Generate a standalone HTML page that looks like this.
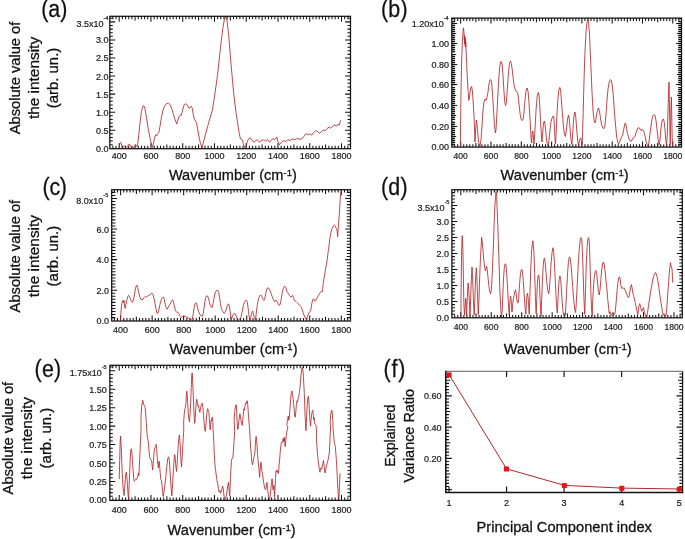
<!DOCTYPE html>
<html lang="en"><head><meta charset="utf-8"><title>PCA components of Raman spectra</title>
<style>html,body{margin:0;padding:0;background:#fff}body{width:685px;height:539px;overflow:hidden}svg{display:block;will-change:transform}</style>
</head><body>
<svg width="685" height="539" viewBox="0 0 685 539" font-family='"Liberation Sans", Arial, Helvetica, sans-serif'>
<rect width="685" height="539" fill="#fff"/>
<g id="panel-a">
<rect x="109.8" y="16.3" width="240.7" height="132.4" fill="none" stroke="#111" stroke-width="1.25"/>
<path d="M112.85 148.7v-2.9M112.85 16.3v2.9M116.02 148.7v-2.9M116.02 16.3v2.9M119.2 148.7v-5.5M119.2 16.3v5.5M122.38 148.7v-2.9M122.38 16.3v2.9M125.55 148.7v-2.9M125.55 16.3v2.9M128.73 148.7v-2.9M128.73 16.3v2.9M131.9 148.7v-2.9M131.9 16.3v2.9M135.08 148.7v-4.2M135.08 16.3v4.2M138.25 148.7v-2.9M138.25 16.3v2.9M141.43 148.7v-2.9M141.43 16.3v2.9M144.61 148.7v-2.9M144.61 16.3v2.9M147.78 148.7v-2.9M147.78 16.3v2.9M150.96 148.7v-5.5M150.96 16.3v5.5M154.13 148.7v-2.9M154.13 16.3v2.9M157.31 148.7v-2.9M157.31 16.3v2.9M160.48 148.7v-2.9M160.48 16.3v2.9M163.66 148.7v-2.9M163.66 16.3v2.9M166.84 148.7v-4.2M166.84 16.3v4.2M170.01 148.7v-2.9M170.01 16.3v2.9M173.19 148.7v-2.9M173.19 16.3v2.9M176.36 148.7v-2.9M176.36 16.3v2.9M179.54 148.7v-2.9M179.54 16.3v2.9M182.71 148.7v-5.5M182.71 16.3v5.5M185.89 148.7v-2.9M185.89 16.3v2.9M189.07 148.7v-2.9M189.07 16.3v2.9M192.24 148.7v-2.9M192.24 16.3v2.9M195.42 148.7v-2.9M195.42 16.3v2.9M198.59 148.7v-4.2M198.59 16.3v4.2M201.77 148.7v-2.9M201.77 16.3v2.9M204.94 148.7v-2.9M204.94 16.3v2.9M208.12 148.7v-2.9M208.12 16.3v2.9M211.3 148.7v-2.9M211.3 16.3v2.9M214.47 148.7v-5.5M214.47 16.3v5.5M217.65 148.7v-2.9M217.65 16.3v2.9M220.82 148.7v-2.9M220.82 16.3v2.9M224 148.7v-2.9M224 16.3v2.9M227.17 148.7v-2.9M227.17 16.3v2.9M230.35 148.7v-4.2M230.35 16.3v4.2M233.53 148.7v-2.9M233.53 16.3v2.9M236.7 148.7v-2.9M236.7 16.3v2.9M239.88 148.7v-2.9M239.88 16.3v2.9M243.05 148.7v-2.9M243.05 16.3v2.9M246.23 148.7v-5.5M246.23 16.3v5.5M249.4 148.7v-2.9M249.4 16.3v2.9M252.58 148.7v-2.9M252.58 16.3v2.9M255.76 148.7v-2.9M255.76 16.3v2.9M258.93 148.7v-2.9M258.93 16.3v2.9M262.11 148.7v-4.2M262.11 16.3v4.2M265.28 148.7v-2.9M265.28 16.3v2.9M268.46 148.7v-2.9M268.46 16.3v2.9M271.63 148.7v-2.9M271.63 16.3v2.9M274.81 148.7v-2.9M274.81 16.3v2.9M277.99 148.7v-5.5M277.99 16.3v5.5M281.16 148.7v-2.9M281.16 16.3v2.9M284.34 148.7v-2.9M284.34 16.3v2.9M287.51 148.7v-2.9M287.51 16.3v2.9M290.69 148.7v-2.9M290.69 16.3v2.9M293.86 148.7v-4.2M293.86 16.3v4.2M297.04 148.7v-2.9M297.04 16.3v2.9M300.22 148.7v-2.9M300.22 16.3v2.9M303.39 148.7v-2.9M303.39 16.3v2.9M306.57 148.7v-2.9M306.57 16.3v2.9M309.74 148.7v-5.5M309.74 16.3v5.5M312.92 148.7v-2.9M312.92 16.3v2.9M316.09 148.7v-2.9M316.09 16.3v2.9M319.27 148.7v-2.9M319.27 16.3v2.9M322.45 148.7v-2.9M322.45 16.3v2.9M325.62 148.7v-4.2M325.62 16.3v4.2M328.8 148.7v-2.9M328.8 16.3v2.9M331.97 148.7v-2.9M331.97 16.3v2.9M335.15 148.7v-2.9M335.15 16.3v2.9M338.32 148.7v-2.9M338.32 16.3v2.9M341.5 148.7v-5.5M341.5 16.3v5.5M344.68 148.7v-2.9M344.68 16.3v2.9M347.85 148.7v-2.9M347.85 16.3v2.9M109.8 144.69h3M350.5 144.69h-3M109.8 141.08h3M350.5 141.08h-3M109.8 137.46h3M350.5 137.46h-3M109.8 133.85h3M350.5 133.85h-3M109.8 130.24h5.4M350.5 130.24h-5.4M109.8 126.63h3M350.5 126.63h-3M109.8 123.02h3M350.5 123.02h-3M109.8 119.4h3M350.5 119.4h-3M109.8 115.79h3M350.5 115.79h-3M109.8 112.18h5.4M350.5 112.18h-5.4M109.8 108.57h3M350.5 108.57h-3M109.8 104.96h3M350.5 104.96h-3M109.8 101.34h3M350.5 101.34h-3M109.8 97.73h3M350.5 97.73h-3M109.8 94.12h5.4M350.5 94.12h-5.4M109.8 90.51h3M350.5 90.51h-3M109.8 86.9h3M350.5 86.9h-3M109.8 83.28h3M350.5 83.28h-3M109.8 79.67h3M350.5 79.67h-3M109.8 76.06h5.4M350.5 76.06h-5.4M109.8 72.45h3M350.5 72.45h-3M109.8 68.84h3M350.5 68.84h-3M109.8 65.22h3M350.5 65.22h-3M109.8 61.61h3M350.5 61.61h-3M109.8 58h5.4M350.5 58h-5.4M109.8 54.39h3M350.5 54.39h-3M109.8 50.78h3M350.5 50.78h-3M109.8 47.16h3M350.5 47.16h-3M109.8 43.55h3M350.5 43.55h-3M109.8 39.94h5.4M350.5 39.94h-5.4M109.8 36.33h3M350.5 36.33h-3M109.8 32.72h3M350.5 32.72h-3M109.8 29.1h3M350.5 29.1h-3M109.8 25.49h3M350.5 25.49h-3M109.8 21.88h5.4M350.5 21.88h-5.4M109.8 18.27h3M350.5 18.27h-3" stroke="#111" stroke-width="1.05" fill="none"/>
<g font-size="9.0" text-anchor="middle" fill="#1a1a1a" stroke="#1a1a1a" stroke-width="0.2">
<text transform="translate(119.2 158.8) scale(1 1.07)">400</text>
<text transform="translate(150.96 158.8) scale(1 1.07)">600</text>
<text transform="translate(182.71 158.8) scale(1 1.07)">800</text>
<text transform="translate(214.47 158.8) scale(1 1.07)">1000</text>
<text transform="translate(246.23 158.8) scale(1 1.07)">1200</text>
<text transform="translate(277.99 158.8) scale(1 1.07)">1400</text>
<text transform="translate(309.74 158.8) scale(1 1.07)">1600</text>
<text transform="translate(341.5 158.8) scale(1 1.07)">1800</text>
</g>
<g font-size="9.0" text-anchor="end" fill="#1a1a1a" stroke="#1a1a1a" stroke-width="0.2">
<text transform="translate(108.4 151.75) scale(1 1.07)">0.0</text>
<text transform="translate(108.4 133.69) scale(1 1.07)">0.5</text>
<text transform="translate(108.4 115.63) scale(1 1.07)">1.0</text>
<text transform="translate(108.4 97.57) scale(1 1.07)">1.5</text>
<text transform="translate(108.4 79.51) scale(1 1.07)">2.0</text>
<text transform="translate(108.4 61.45) scale(1 1.07)">2.5</text>
<text transform="translate(108.4 43.39) scale(1 1.07)">3.0</text>
<text transform="translate(103.5 27.08) scale(1 1.07)">3.5x10</text>
<text transform="translate(103.5 20.18) scale(1 1.07)" text-anchor="start" font-size="5.6">-4</text>
</g>
<path d="M119.3 147.8 119.5 144.7 119.9 142.8 120.5 142.4 121.1 143 121.6 145 122 147.2 122.5 148 123.1 147.6 123.6 146.5 124.2 145.9 124.8 146.2 125.3 147.1 125.9 147.9 126.5 148 127.1 147.5 127.7 146.3 128.3 144.8 128.9 144 129.5 144.2 130.1 145.2 130.8 146.6 131.6 147.6 133.1 147.9 134 147.2 134.6 146 135.3 145.2 136 145 136.6 145.6 137 146.5 137.4 145.5 137.7 143.5 138.91 134.03 139.93 123.69 141.39 111.88 142.85 106.26 143.87 105.67 145.04 108.92 146.5 117.78 148.25 128.86 150.15 138.46 151.61 145.11 152.63 147.32 153.5 142.89 154.82 136.99 155.69 134.77 156.72 135.8 157.88 133.29 158.91 132.26 159.93 126.65 161.39 117.78 162.85 110.4 164.74 105.67 166.64 103.46 168.39 103.31 170.15 104.79 171.61 108.18 173.07 113.35 174.96 119.26 176.72 123.99 177.88 120 179.34 115.86 180.36 114.83 181.24 115.57 182.55 110.4 184.01 105.23 185.18 103.75 186.64 104.2 187.66 105.97 188.83 108.18 190 107.45 191.31 106.26 192.19 108.18 193.21 114.09 194.38 119.26 195.4 121.03 196.57 122.95 197.59 128.86 199.05 136.99 200.51 143.63 201.97 147.62 204.97 136.38 208.71 122.47 212.46 109.83 214.96 93.39 217.45 75.69 220.45 47.87 222.94 27.64 224.44 18.79 225.69 17.02 226.94 20.06 228.68 35.23 231.18 65.57 233.68 93.39 236.17 113.62 238.67 130.06 240.42 138.91 242.41 140.17 243.66 145.23 244.91 147.76 246.16 145.23 247.91 140.17 249.9 137.64 251.9 140.17 253.65 142.19 255.64 140.68 257.39 139.67 259.39 142.19 261.14 140.68 263.63 139.67 265.38 140.93 267.38 139.41 269.37 142.19 271.12 140.68 272.87 138.4 274.87 139.67 276.86 137.14 277.86 141.44 279.36 144.72 281.11 142.7 283.6 140.68 286.1 141.44 287.85 139.67 289.84 140.68 292.34 138.91 294.84 139.67 297.33 138.4 299.83 139.41 302.32 138.4 304.32 135.87 306.07 133.34 307.82 135.11 309.81 133.85 311.81 135.11 313.56 132.58 316.05 130.56 317.8 131.83 319.8 133.34 321.79 131.32 323.54 130.06 325.29 130.81 327.29 128.29 329.28 127.02 331.03 128.29 332.78 126.26 334.78 125 336.52 126.26 337.77 124.24 339.27 125 340.52 120.7" fill="none" stroke="#b4262a" stroke-width="0.85" stroke-linejoin="round" stroke-linecap="round"/>
</g>
<g id="panel-b">
<rect x="451.8" y="18.1" width="229.7" height="129" fill="none" stroke="#111" stroke-width="1.25"/>
<path d="M454.64 147.1v-2.9M454.64 18.1v2.9M457.67 147.1v-2.9M457.67 18.1v2.9M460.7 147.1v-5.5M460.7 18.1v5.5M463.73 147.1v-2.9M463.73 18.1v2.9M466.76 147.1v-2.9M466.76 18.1v2.9M469.79 147.1v-2.9M469.79 18.1v2.9M472.82 147.1v-2.9M472.82 18.1v2.9M475.85 147.1v-4.2M475.85 18.1v4.2M478.88 147.1v-2.9M478.88 18.1v2.9M481.91 147.1v-2.9M481.91 18.1v2.9M484.94 147.1v-2.9M484.94 18.1v2.9M487.97 147.1v-2.9M487.97 18.1v2.9M491 147.1v-5.5M491 18.1v5.5M494.03 147.1v-2.9M494.03 18.1v2.9M497.06 147.1v-2.9M497.06 18.1v2.9M500.09 147.1v-2.9M500.09 18.1v2.9M503.12 147.1v-2.9M503.12 18.1v2.9M506.15 147.1v-4.2M506.15 18.1v4.2M509.18 147.1v-2.9M509.18 18.1v2.9M512.21 147.1v-2.9M512.21 18.1v2.9M515.24 147.1v-2.9M515.24 18.1v2.9M518.27 147.1v-2.9M518.27 18.1v2.9M521.3 147.1v-5.5M521.3 18.1v5.5M524.33 147.1v-2.9M524.33 18.1v2.9M527.36 147.1v-2.9M527.36 18.1v2.9M530.39 147.1v-2.9M530.39 18.1v2.9M533.42 147.1v-2.9M533.42 18.1v2.9M536.45 147.1v-4.2M536.45 18.1v4.2M539.48 147.1v-2.9M539.48 18.1v2.9M542.51 147.1v-2.9M542.51 18.1v2.9M545.54 147.1v-2.9M545.54 18.1v2.9M548.57 147.1v-2.9M548.57 18.1v2.9M551.6 147.1v-5.5M551.6 18.1v5.5M554.63 147.1v-2.9M554.63 18.1v2.9M557.66 147.1v-2.9M557.66 18.1v2.9M560.69 147.1v-2.9M560.69 18.1v2.9M563.72 147.1v-2.9M563.72 18.1v2.9M566.75 147.1v-4.2M566.75 18.1v4.2M569.78 147.1v-2.9M569.78 18.1v2.9M572.81 147.1v-2.9M572.81 18.1v2.9M575.84 147.1v-2.9M575.84 18.1v2.9M578.87 147.1v-2.9M578.87 18.1v2.9M581.9 147.1v-5.5M581.9 18.1v5.5M584.93 147.1v-2.9M584.93 18.1v2.9M587.96 147.1v-2.9M587.96 18.1v2.9M590.99 147.1v-2.9M590.99 18.1v2.9M594.02 147.1v-2.9M594.02 18.1v2.9M597.05 147.1v-4.2M597.05 18.1v4.2M600.08 147.1v-2.9M600.08 18.1v2.9M603.11 147.1v-2.9M603.11 18.1v2.9M606.14 147.1v-2.9M606.14 18.1v2.9M609.17 147.1v-2.9M609.17 18.1v2.9M612.2 147.1v-5.5M612.2 18.1v5.5M615.23 147.1v-2.9M615.23 18.1v2.9M618.26 147.1v-2.9M618.26 18.1v2.9M621.29 147.1v-2.9M621.29 18.1v2.9M624.32 147.1v-2.9M624.32 18.1v2.9M627.35 147.1v-4.2M627.35 18.1v4.2M630.38 147.1v-2.9M630.38 18.1v2.9M633.41 147.1v-2.9M633.41 18.1v2.9M636.44 147.1v-2.9M636.44 18.1v2.9M639.47 147.1v-2.9M639.47 18.1v2.9M642.5 147.1v-5.5M642.5 18.1v5.5M645.53 147.1v-2.9M645.53 18.1v2.9M648.56 147.1v-2.9M648.56 18.1v2.9M651.59 147.1v-2.9M651.59 18.1v2.9M654.62 147.1v-2.9M654.62 18.1v2.9M657.65 147.1v-4.2M657.65 18.1v4.2M660.68 147.1v-2.9M660.68 18.1v2.9M663.71 147.1v-2.9M663.71 18.1v2.9M666.74 147.1v-2.9M666.74 18.1v2.9M669.77 147.1v-2.9M669.77 18.1v2.9M672.8 147.1v-5.5M672.8 18.1v5.5M675.83 147.1v-2.9M675.83 18.1v2.9M678.86 147.1v-2.9M678.86 18.1v2.9M451.8 144.5h3.3M681.5 144.5h-3.3M451.8 142.5h3.3M681.5 142.5h-3.3M451.8 140.5h3.3M681.5 140.5h-3.3M451.8 138.5h3.3M681.5 138.5h-3.3M451.8 136.5h4.4M681.5 136.5h-4.4M451.8 134.5h3.3M681.5 134.5h-3.3M451.8 132.5h3.3M681.5 132.5h-3.3M451.8 130.5h3.3M681.5 130.5h-3.3M451.8 128.5h3.3M681.5 128.5h-3.3M451.8 126.5h5.4M681.5 126.5h-5.4M451.8 124.5h3.3M681.5 124.5h-3.3M451.8 122.5h3.3M681.5 122.5h-3.3M451.8 119.5h3.3M681.5 119.5h-3.3M451.8 117.5h3.3M681.5 117.5h-3.3M451.8 115.5h4.4M681.5 115.5h-4.4M451.8 113.5h3.3M681.5 113.5h-3.3M451.8 111.5h3.3M681.5 111.5h-3.3M451.8 109.5h3.3M681.5 109.5h-3.3M451.8 107.5h3.3M681.5 107.5h-3.3M451.8 105.5h5.4M681.5 105.5h-5.4M451.8 103.5h3.3M681.5 103.5h-3.3M451.8 101.5h3.3M681.5 101.5h-3.3M451.8 99.5h3.3M681.5 99.5h-3.3M451.8 97.5h3.3M681.5 97.5h-3.3M451.8 95.5h4.4M681.5 95.5h-4.4M451.8 93.5h3.3M681.5 93.5h-3.3M451.8 91.5h3.3M681.5 91.5h-3.3M451.8 89.5h3.3M681.5 89.5h-3.3M451.8 87.5h3.3M681.5 87.5h-3.3M451.8 84.5h5.4M681.5 84.5h-5.4M451.8 82.5h3.3M681.5 82.5h-3.3M451.8 80.5h3.3M681.5 80.5h-3.3M451.8 78.5h3.3M681.5 78.5h-3.3M451.8 76.5h3.3M681.5 76.5h-3.3M451.8 74.5h4.4M681.5 74.5h-4.4M451.8 72.5h3.3M681.5 72.5h-3.3M451.8 70.5h3.3M681.5 70.5h-3.3M451.8 68.5h3.3M681.5 68.5h-3.3M451.8 66.5h3.3M681.5 66.5h-3.3M451.8 64.5h5.4M681.5 64.5h-5.4M451.8 62.5h3.3M681.5 62.5h-3.3M451.8 60.5h3.3M681.5 60.5h-3.3M451.8 58.5h3.3M681.5 58.5h-3.3M451.8 56.5h3.3M681.5 56.5h-3.3M451.8 54.5h4.4M681.5 54.5h-4.4M451.8 51.5h3.3M681.5 51.5h-3.3M451.8 49.5h3.3M681.5 49.5h-3.3M451.8 47.5h3.3M681.5 47.5h-3.3M451.8 45.5h3.3M681.5 45.5h-3.3M451.8 43.5h5.4M681.5 43.5h-5.4M451.8 41.5h3.3M681.5 41.5h-3.3M451.8 39.5h3.3M681.5 39.5h-3.3M451.8 37.5h3.3M681.5 37.5h-3.3M451.8 35.5h3.3M681.5 35.5h-3.3M451.8 33.5h4.4M681.5 33.5h-4.4M451.8 31.5h3.3M681.5 31.5h-3.3M451.8 29.5h3.3M681.5 29.5h-3.3M451.8 27.5h3.3M681.5 27.5h-3.3M451.8 25.5h3.3M681.5 25.5h-3.3M451.8 23.5h5.4M681.5 23.5h-5.4M451.8 21.5h3.3M681.5 21.5h-3.3M451.8 18.5h3.3M681.5 18.5h-3.3" stroke="#111" stroke-width="1.05" fill="none"/>
<path d="M451.8 145.5h3.1M681.5 145.5h-3.1M451.8 143.5h3.1M681.5 143.5h-3.1M451.8 141.5h3.1M681.5 141.5h-3.1M451.8 139.5h3.1M681.5 139.5h-3.1M451.8 137.5h3.1M681.5 137.5h-3.1M451.8 135.5h3.1M681.5 135.5h-3.1M451.8 133.5h3.1M681.5 133.5h-3.1M451.8 131.5h3.1M681.5 131.5h-3.1M451.8 129.5h3.1M681.5 129.5h-3.1M451.8 127.5h3.1M681.5 127.5h-3.1M451.8 125.5h3.1M681.5 125.5h-3.1M451.8 123.5h3.1M681.5 123.5h-3.1M451.8 121.5h3.1M681.5 121.5h-3.1M451.8 118.5h3.1M681.5 118.5h-3.1M451.8 116.5h3.1M681.5 116.5h-3.1M451.8 114.5h3.1M681.5 114.5h-3.1M451.8 112.5h3.1M681.5 112.5h-3.1M451.8 110.5h3.1M681.5 110.5h-3.1M451.8 108.5h3.1M681.5 108.5h-3.1M451.8 106.5h3.1M681.5 106.5h-3.1M451.8 104.5h3.1M681.5 104.5h-3.1M451.8 102.5h3.1M681.5 102.5h-3.1M451.8 100.5h3.1M681.5 100.5h-3.1M451.8 98.5h3.1M681.5 98.5h-3.1M451.8 96.5h3.1M681.5 96.5h-3.1M451.8 94.5h3.1M681.5 94.5h-3.1M451.8 92.5h3.1M681.5 92.5h-3.1M451.8 90.5h3.1M681.5 90.5h-3.1M451.8 88.5h3.1M681.5 88.5h-3.1M451.8 85.5h3.1M681.5 85.5h-3.1M451.8 83.5h3.1M681.5 83.5h-3.1M451.8 81.5h3.1M681.5 81.5h-3.1M451.8 79.5h3.1M681.5 79.5h-3.1M451.8 77.5h3.1M681.5 77.5h-3.1M451.8 75.5h3.1M681.5 75.5h-3.1M451.8 73.5h3.1M681.5 73.5h-3.1M451.8 71.5h3.1M681.5 71.5h-3.1M451.8 69.5h3.1M681.5 69.5h-3.1M451.8 67.5h3.1M681.5 67.5h-3.1M451.8 65.5h3.1M681.5 65.5h-3.1M451.8 63.5h3.1M681.5 63.5h-3.1M451.8 61.5h3.1M681.5 61.5h-3.1M451.8 59.5h3.1M681.5 59.5h-3.1M451.8 57.5h3.1M681.5 57.5h-3.1M451.8 55.5h3.1M681.5 55.5h-3.1M451.8 52.5h3.1M681.5 52.5h-3.1M451.8 50.5h3.1M681.5 50.5h-3.1M451.8 48.5h3.1M681.5 48.5h-3.1M451.8 46.5h3.1M681.5 46.5h-3.1M451.8 44.5h3.1M681.5 44.5h-3.1M451.8 42.5h3.1M681.5 42.5h-3.1M451.8 40.5h3.1M681.5 40.5h-3.1M451.8 38.5h3.1M681.5 38.5h-3.1M451.8 36.5h3.1M681.5 36.5h-3.1M451.8 34.5h3.1M681.5 34.5h-3.1M451.8 32.5h3.1M681.5 32.5h-3.1M451.8 30.5h3.1M681.5 30.5h-3.1M451.8 28.5h3.1M681.5 28.5h-3.1M451.8 26.5h3.1M681.5 26.5h-3.1M451.8 24.5h3.1M681.5 24.5h-3.1M451.8 22.5h3.1M681.5 22.5h-3.1M451.8 19.5h3.1M681.5 19.5h-3.1" stroke="#111" stroke-width="0.35" fill="none"/>
<g font-size="8.6" text-anchor="middle" fill="#1a1a1a" stroke="#1a1a1a" stroke-width="0.2">
<text transform="translate(460.7 159.4) scale(1 1.07)">400</text>
<text transform="translate(491 159.4) scale(1 1.07)">600</text>
<text transform="translate(521.3 159.4) scale(1 1.07)">800</text>
<text transform="translate(551.6 159.4) scale(1 1.07)">1000</text>
<text transform="translate(581.9 159.4) scale(1 1.07)">1200</text>
<text transform="translate(612.2 159.4) scale(1 1.07)">1400</text>
<text transform="translate(642.5 159.4) scale(1 1.07)">1600</text>
<text transform="translate(672.8 159.4) scale(1 1.07)">1800</text>
</g>
<g font-size="9.0" text-anchor="end" fill="#1a1a1a" stroke="#1a1a1a" stroke-width="0.2">
<text transform="translate(448.9 150.25) scale(1 1.07)">0.00</text>
<text transform="translate(448.9 129.63) scale(1 1.07)">0.20</text>
<text transform="translate(448.9 109.01) scale(1 1.07)">0.40</text>
<text transform="translate(448.9 88.39) scale(1 1.07)">0.60</text>
<text transform="translate(448.9 67.77) scale(1 1.07)">0.80</text>
<text transform="translate(448.9 47.15) scale(1 1.07)">1.00</text>
<text transform="translate(443.7 27.18) scale(1 1.07)">1.20x10</text>
<text transform="translate(443.7 20.28) scale(1 1.07)" text-anchor="start" font-size="5.6">-4</text>
</g>
<path d="M460.4 146.5 460.6 122 461 92 461.6 62 462.4 42 463 32 463.5 27.8 464 33 464.3 40 464.6 35.5 464.8 44 465 37 465.2 46 465.4 39 465.6 47 465.8 42 466 50 466.3 54 467.4 80 468.2 92 468.8 100.4 469.6 96 470.6 89 471.6 86.4 472.4 91 473.2 102 474 116 474.6 130 475 142 475.6 130 476.4 120 477.2 126 478 136 479 144 480 146 481 140 482 126 483 110 484 102 485 99 486 100.4 487 97 488 92 489 84 490 80 490.8 79.6 491.6 82 492.4 92 493.4 108 494.4 124 495.4 133 496 130 496.8 116 497.6 100 498.6 82 499.6 68 500.6 62 501.4 61.4 502.2 65 503 76 504 92 504.8 102 505.6 105.6 506.4 102 507.4 88 508.4 74 509.4 64 510.4 61 511.4 63.6 512.4 71 513.4 80 514.4 87 515.6 90.6 517 91.6 518 94.4 519 104 520 113 521 119 522.2 120.6 523.2 119 524 112 525 100 526 91 527 88 528 91 528.8 100 529.6 112 530.4 126 531.2 140 531.6 143 532.2 134 532.8 131 533.4 136 534 144 534.6 136 535.4 122 536.2 108 537.2 96 538.2 92.4 539 95 539.8 106 540.6 122 541.4 136 542 142 542.6 134 543.4 124 544.2 121 545 124 545.8 132 546.8 142 548 146 549 140 550 130 551 122 552 118 553.2 116 554 119 554.6 130 555.2 142 555.6 144 556.2 132 557 114 557.8 100 558.8 90 559.8 87.4 560.6 90 561.4 100 562.4 114 563.4 126 564.4 134 565.4 136.4 566.4 130 567.4 120 568.4 115 569.2 119 570 128 571 140 571.8 144.4 572.6 136 573.4 122 574.4 113 575 112 575.8 117 576.6 128 577.6 140 578.4 145.6 579.2 142 580 139 580.8 138 581.4 141 582 145 582.6 134 583.2 112 583.8 88 584.4 68 585 52 586 32 587 22 587.8 19 588.6 22 589.6 36 590.6 60 591.4 78 592 92 593 110 594 120 594.8 123 595.6 121 596.6 115 597.6 110 598.6 108 599.6 112 600.6 119 601.6 125 602.8 128 604 128.6 605 125 606 114 607 100 608 89 609.2 82 610.4 79.6 611.6 81 612.6 88 613.6 100 614.6 114 615.6 126 616.6 136 617.6 142 618.6 144 619.6 142 620.6 139 621.6 137 622.6 135 623.6 130 624.6 125 625.4 123 626.2 126 627.2 132 628.4 137 629.6 140 630.8 141.6 632 140 633 138 634 137.6 635 136 636 133 637 130 638 128 639 127.6 640 129 641 130.4 642 129.6 643 130 644 132 645 136 646 141 647 145 648 146.4 649 142 650 134 651 126 652 119 653 115.6 654.2 114.4 655.2 116 656.2 122 657.2 131 658.2 140 659.2 145 660 140 660.8 130 661.6 123 662.6 119.6 663.4 119 664.2 122 665 130 665.8 140 666.6 145.6 667.2 136 667.8 118 668.4 98 669 82 669.4 102 669.8 126 670.2 145 670.6 126 671 106 671.4 97 671.8 118 672.2 138 672.6 146" fill="none" stroke="#b4262a" stroke-width="0.85" stroke-linejoin="round" stroke-linecap="round"/>
</g>
<g id="panel-c">
<rect x="111.7" y="189.7" width="238.8" height="131.3" fill="none" stroke="#111" stroke-width="1.25"/>
<path d="M114.29 321v-2.9M114.29 189.7v2.9M117.45 321v-2.9M117.45 189.7v2.9M120.6 321v-5.5M120.6 189.7v5.5M123.75 321v-2.9M123.75 189.7v2.9M126.91 321v-2.9M126.91 189.7v2.9M130.06 321v-2.9M130.06 189.7v2.9M133.21 321v-2.9M133.21 189.7v2.9M136.36 321v-4.2M136.36 189.7v4.2M139.52 321v-2.9M139.52 189.7v2.9M142.67 321v-2.9M142.67 189.7v2.9M145.82 321v-2.9M145.82 189.7v2.9M148.98 321v-2.9M148.98 189.7v2.9M152.13 321v-5.5M152.13 189.7v5.5M155.28 321v-2.9M155.28 189.7v2.9M158.43 321v-2.9M158.43 189.7v2.9M161.59 321v-2.9M161.59 189.7v2.9M164.74 321v-2.9M164.74 189.7v2.9M167.89 321v-4.2M167.89 189.7v4.2M171.05 321v-2.9M171.05 189.7v2.9M174.2 321v-2.9M174.2 189.7v2.9M177.35 321v-2.9M177.35 189.7v2.9M180.5 321v-2.9M180.5 189.7v2.9M183.66 321v-5.5M183.66 189.7v5.5M186.81 321v-2.9M186.81 189.7v2.9M189.96 321v-2.9M189.96 189.7v2.9M193.12 321v-2.9M193.12 189.7v2.9M196.27 321v-2.9M196.27 189.7v2.9M199.42 321v-4.2M199.42 189.7v4.2M202.57 321v-2.9M202.57 189.7v2.9M205.73 321v-2.9M205.73 189.7v2.9M208.88 321v-2.9M208.88 189.7v2.9M212.03 321v-2.9M212.03 189.7v2.9M215.19 321v-5.5M215.19 189.7v5.5M218.34 321v-2.9M218.34 189.7v2.9M221.49 321v-2.9M221.49 189.7v2.9M224.64 321v-2.9M224.64 189.7v2.9M227.8 321v-2.9M227.8 189.7v2.9M230.95 321v-4.2M230.95 189.7v4.2M234.1 321v-2.9M234.1 189.7v2.9M237.26 321v-2.9M237.26 189.7v2.9M240.41 321v-2.9M240.41 189.7v2.9M243.56 321v-2.9M243.56 189.7v2.9M246.71 321v-5.5M246.71 189.7v5.5M249.87 321v-2.9M249.87 189.7v2.9M253.02 321v-2.9M253.02 189.7v2.9M256.17 321v-2.9M256.17 189.7v2.9M259.33 321v-2.9M259.33 189.7v2.9M262.48 321v-4.2M262.48 189.7v4.2M265.63 321v-2.9M265.63 189.7v2.9M268.78 321v-2.9M268.78 189.7v2.9M271.94 321v-2.9M271.94 189.7v2.9M275.09 321v-2.9M275.09 189.7v2.9M278.24 321v-5.5M278.24 189.7v5.5M281.4 321v-2.9M281.4 189.7v2.9M284.55 321v-2.9M284.55 189.7v2.9M287.7 321v-2.9M287.7 189.7v2.9M290.85 321v-2.9M290.85 189.7v2.9M294.01 321v-4.2M294.01 189.7v4.2M297.16 321v-2.9M297.16 189.7v2.9M300.31 321v-2.9M300.31 189.7v2.9M303.47 321v-2.9M303.47 189.7v2.9M306.62 321v-2.9M306.62 189.7v2.9M309.77 321v-5.5M309.77 189.7v5.5M312.92 321v-2.9M312.92 189.7v2.9M316.08 321v-2.9M316.08 189.7v2.9M319.23 321v-2.9M319.23 189.7v2.9M322.38 321v-2.9M322.38 189.7v2.9M325.54 321v-4.2M325.54 189.7v4.2M328.69 321v-2.9M328.69 189.7v2.9M331.84 321v-2.9M331.84 189.7v2.9M334.99 321v-2.9M334.99 189.7v2.9M338.15 321v-2.9M338.15 189.7v2.9M341.3 321v-5.5M341.3 189.7v5.5M344.45 321v-2.9M344.45 189.7v2.9M347.61 321v-2.9M347.61 189.7v2.9M111.7 317.64h3.7M350.5 317.64h-3.7M111.7 314.59h3.7M350.5 314.59h-3.7M111.7 311.53h3.7M350.5 311.53h-3.7M111.7 308.48h3.7M350.5 308.48h-3.7M111.7 305.43h3.7M350.5 305.43h-3.7M111.7 302.37h3.7M350.5 302.37h-3.7M111.7 299.31h3.7M350.5 299.31h-3.7M111.7 296.26h3.7M350.5 296.26h-3.7M111.7 293.2h3.7M350.5 293.2h-3.7M111.7 290.15h5.4M350.5 290.15h-5.4M111.7 287.09h3.7M350.5 287.09h-3.7M111.7 284.04h3.7M350.5 284.04h-3.7M111.7 280.99h3.7M350.5 280.99h-3.7M111.7 277.93h3.7M350.5 277.93h-3.7M111.7 274.88h3.7M350.5 274.88h-3.7M111.7 271.82h3.7M350.5 271.82h-3.7M111.7 268.76h3.7M350.5 268.76h-3.7M111.7 265.71h3.7M350.5 265.71h-3.7M111.7 262.65h3.7M350.5 262.65h-3.7M111.7 259.6h5.4M350.5 259.6h-5.4M111.7 256.54h3.7M350.5 256.54h-3.7M111.7 253.49h3.7M350.5 253.49h-3.7M111.7 250.44h3.7M350.5 250.44h-3.7M111.7 247.38h3.7M350.5 247.38h-3.7M111.7 244.32h3.7M350.5 244.32h-3.7M111.7 241.27h3.7M350.5 241.27h-3.7M111.7 238.21h3.7M350.5 238.21h-3.7M111.7 235.16h3.7M350.5 235.16h-3.7M111.7 232.1h3.7M350.5 232.1h-3.7M111.7 229.05h5.4M350.5 229.05h-5.4M111.7 226h3.7M350.5 226h-3.7M111.7 222.94h3.7M350.5 222.94h-3.7M111.7 219.88h3.7M350.5 219.88h-3.7M111.7 216.83h3.7M350.5 216.83h-3.7M111.7 213.77h3.7M350.5 213.77h-3.7M111.7 210.72h3.7M350.5 210.72h-3.7M111.7 207.66h3.7M350.5 207.66h-3.7M111.7 204.61h3.7M350.5 204.61h-3.7M111.7 201.55h3.7M350.5 201.55h-3.7M111.7 198.5h5.4M350.5 198.5h-5.4M111.7 195.44h3.7M350.5 195.44h-3.7M111.7 192.39h3.7M350.5 192.39h-3.7" stroke="#111" stroke-width="1.05" fill="none"/>
<g font-size="9.0" text-anchor="middle" fill="#1a1a1a" stroke="#1a1a1a" stroke-width="0.2">
<text transform="translate(120.6 332.5) scale(1 1.07)">400</text>
<text transform="translate(152.13 332.5) scale(1 1.07)">600</text>
<text transform="translate(183.66 332.5) scale(1 1.07)">800</text>
<text transform="translate(215.19 332.5) scale(1 1.07)">1000</text>
<text transform="translate(246.71 332.5) scale(1 1.07)">1200</text>
<text transform="translate(278.24 332.5) scale(1 1.07)">1400</text>
<text transform="translate(309.77 332.5) scale(1 1.07)">1600</text>
<text transform="translate(341.3 332.5) scale(1 1.07)">1800</text>
</g>
<g font-size="9.0" text-anchor="end" fill="#1a1a1a" stroke="#1a1a1a" stroke-width="0.2">
<text transform="translate(108.9 324.15) scale(1 1.07)">0.0</text>
<text transform="translate(108.9 293.6) scale(1 1.07)">2.0</text>
<text transform="translate(108.9 263.05) scale(1 1.07)">4.0</text>
<text transform="translate(108.9 232.5) scale(1 1.07)">6.0</text>
<text transform="translate(103.3 204.1) scale(1 1.07)">8.0x10</text>
<text transform="translate(103.3 197.2) scale(1 1.07)" text-anchor="start" font-size="5.6">-5</text>
</g>
<path d="M120.41 320.18 120.85 313.61 121.43 306.31 122.16 301.93 122.89 300.47 123.47 302.66 124.06 300.47 124.64 306.31 125.23 308.5 125.81 304.85 126.69 300.47 127.71 296.82 128.73 295.36 129.61 296.82 130.63 299.74 131.65 301.64 132.53 302.23 133.55 299.74 134.57 293.91 135.45 288.8 136.32 285.58 136.91 285.15 137.64 287.34 138.66 292.45 139.82 296.82 140.85 299.31 141.87 299.74 143.04 299.31 144.2 297.55 145.37 296.39 146.54 296.82 147.71 296.09 148.88 295.36 150.04 294.64 151.21 293.47 152.09 293.18 152.96 294.64 153.99 298.28 155.01 303.39 155.88 308.5 156.76 312.45 157.64 313.61 158.51 311.42 159.39 307.04 160.55 301.93 161.72 298.72 162.89 297.26 163.62 297.12 164.35 299.74 165.23 304.12 166.1 307.77 166.98 309.23 167.85 307.77 168.73 306.02 169.75 304.85 170.77 302.66 171.65 300.47 172.53 299.74 173.4 301.2 174.28 305.58 175.15 309.23 176.03 311.42 176.91 312.45 177.78 312.15 178.66 313.32 179.53 314.78 180.41 316.53 181.28 317.7 182.16 317.26 183.04 316.53 183.91 316.24 184.79 316.53 185.66 316.24 186.83 317.26 188 317.99 189.17 318.28 190.34 319.16 191.5 319.74 192.38 318.72 193.26 313.61 194.13 307.77 195.01 303.69 195.88 302.66 196.76 304.12 197.64 307.77 198.51 311.42 200 314.78 201.17 315.8 202.34 316.24 203.21 313.61 204.09 307.77 204.96 301.2 205.84 297.26 206.72 295.8 207.59 296.09 208.47 298.28 209.34 301.93 210.22 305.15 211.24 307.04 212.26 307.48 213.14 303.39 214.01 298.28 214.89 293.91 215.77 291.42 216.79 290.26 217.81 290.4 218.69 292.45 219.56 297.55 220.44 303.39 221.31 308.5 222.19 310.69 223.07 311.86 224.09 313.32 225.11 312.45 225.99 309.96 226.86 307.04 227.74 304.56 228.61 303.98 229.34 306.31 230.07 311.42 230.8 316.53 231.53 319.45 232.41 316.53 233.28 314.34 234.16 313.32 235.04 313.61 235.91 315.07 236.79 317.26 237.66 319.16 238.54 320.18 239.42 319.45 240.29 318.72 241.17 316.53 242.04 312.15 242.92 307.77 243.8 304.12 244.67 301.64 245.55 300.47 246.42 300.18 247.3 302.23 247.88 306.31 248.47 311.42 249.05 315.8 249.64 318.72 250.22 319.74 250.8 317.26 251.39 314.34 251.97 312.15 252.55 310.99 253.14 312.45 253.72 315.07 254.31 317.26 254.89 319.16 255.47 320.18 256.06 315.07 256.64 309.96 257.23 305.58 257.81 301.93 258.69 298.28 259.56 296.09 260.44 295.07 261.31 295.36 262.19 297.26 263.07 299.31 263.94 300.47 264.53 299.74 265.11 296.82 265.99 292.45 266.86 289.09 267.74 287.77 268.61 288.07 269.49 289.53 270.36 291.42 271.24 293.91 272.12 296.39 272.99 298.72 273.87 300.77 274.74 301.64 275.62 300.18 276.5 300.47 277.37 302.23 278.25 304.12 279.12 305.29 280 304.85 280.73 301.93 281.46 297.55 282.34 292.45 283.21 288.5 284.09 286.61 285 286.31 285.88 287.63 286.75 290.99 287.63 292.45 288.5 293.91 289.38 295.36 290.26 296.09 291.13 297.26 292.01 295.8 292.59 295.36 293.47 297.55 294.34 300.18 295.22 301.2 296.09 301.64 296.97 302.66 297.85 303.39 298.72 304.12 299.6 305.15 300.47 306.31 301.35 307.48 302.23 309.96 303.1 312.45 303.98 315.07 304.85 317.26 305.73 319.16 306.46 319.89 307.19 317.7 308.07 314.78 308.94 312.88 309.82 311.86 310.69 310.4 311.28 307.04 312.01 302.66 312.74 299.74 313.47 298.72 314.2 299.74 315.07 301.2 315.95 300.18 316.82 298.28 317.7 296.82 318.58 295.36 319.45 293.91 320.33 292.45 321.2 291.42 322.08 292.01 322.66 288.8 323.25 283.69 323.83 279.31 324.71 274.2 325.58 269.09 326.46 263.98 327.34 258.87 327.92 253.76 328.5 249.38 329.09 245 329.96 237.55 330.84 233.18 331.72 229.53 332.59 227.34 333.47 225.88 334.34 225.15 334.93 225.58 335.51 227.34 336.09 228.07 336.68 228.8 337.12 230.99 337.41 234.64 337.7 236.82 337.99 231.72 338.43 225.88 338.87 220.04 339.31 214.2 339.74 206.9 340.18 199.6 340.62 193.76 341.06 190.84" fill="none" stroke="#b4262a" stroke-width="0.85" stroke-linejoin="round" stroke-linecap="round"/>
</g>
<g id="panel-d">
<rect x="451.9" y="189.7" width="230.4" height="128.1" fill="none" stroke="#111" stroke-width="1.25"/>
<path d="M454.71 317.8v-2.9M454.71 189.7v2.9M457.75 317.8v-2.9M457.75 189.7v2.9M460.8 317.8v-5.5M460.8 189.7v5.5M463.85 317.8v-2.9M463.85 189.7v2.9M466.89 317.8v-2.9M466.89 189.7v2.9M469.94 317.8v-2.9M469.94 189.7v2.9M472.98 317.8v-2.9M472.98 189.7v2.9M476.03 317.8v-4.2M476.03 189.7v4.2M479.07 317.8v-2.9M479.07 189.7v2.9M482.12 317.8v-2.9M482.12 189.7v2.9M485.17 317.8v-2.9M485.17 189.7v2.9M488.21 317.8v-2.9M488.21 189.7v2.9M491.26 317.8v-5.5M491.26 189.7v5.5M494.3 317.8v-2.9M494.3 189.7v2.9M497.35 317.8v-2.9M497.35 189.7v2.9M500.39 317.8v-2.9M500.39 189.7v2.9M503.44 317.8v-2.9M503.44 189.7v2.9M506.49 317.8v-4.2M506.49 189.7v4.2M509.53 317.8v-2.9M509.53 189.7v2.9M512.58 317.8v-2.9M512.58 189.7v2.9M515.62 317.8v-2.9M515.62 189.7v2.9M518.67 317.8v-2.9M518.67 189.7v2.9M521.71 317.8v-5.5M521.71 189.7v5.5M524.76 317.8v-2.9M524.76 189.7v2.9M527.81 317.8v-2.9M527.81 189.7v2.9M530.85 317.8v-2.9M530.85 189.7v2.9M533.9 317.8v-2.9M533.9 189.7v2.9M536.94 317.8v-4.2M536.94 189.7v4.2M539.99 317.8v-2.9M539.99 189.7v2.9M543.03 317.8v-2.9M543.03 189.7v2.9M546.08 317.8v-2.9M546.08 189.7v2.9M549.13 317.8v-2.9M549.13 189.7v2.9M552.17 317.8v-5.5M552.17 189.7v5.5M555.22 317.8v-2.9M555.22 189.7v2.9M558.26 317.8v-2.9M558.26 189.7v2.9M561.31 317.8v-2.9M561.31 189.7v2.9M564.35 317.8v-2.9M564.35 189.7v2.9M567.4 317.8v-4.2M567.4 189.7v4.2M570.45 317.8v-2.9M570.45 189.7v2.9M573.49 317.8v-2.9M573.49 189.7v2.9M576.54 317.8v-2.9M576.54 189.7v2.9M579.58 317.8v-2.9M579.58 189.7v2.9M582.63 317.8v-5.5M582.63 189.7v5.5M585.67 317.8v-2.9M585.67 189.7v2.9M588.72 317.8v-2.9M588.72 189.7v2.9M591.77 317.8v-2.9M591.77 189.7v2.9M594.81 317.8v-2.9M594.81 189.7v2.9M597.86 317.8v-4.2M597.86 189.7v4.2M600.9 317.8v-2.9M600.9 189.7v2.9M603.95 317.8v-2.9M603.95 189.7v2.9M606.99 317.8v-2.9M606.99 189.7v2.9M610.04 317.8v-2.9M610.04 189.7v2.9M613.09 317.8v-5.5M613.09 189.7v5.5M616.13 317.8v-2.9M616.13 189.7v2.9M619.18 317.8v-2.9M619.18 189.7v2.9M622.22 317.8v-2.9M622.22 189.7v2.9M625.27 317.8v-2.9M625.27 189.7v2.9M628.31 317.8v-4.2M628.31 189.7v4.2M631.36 317.8v-2.9M631.36 189.7v2.9M634.41 317.8v-2.9M634.41 189.7v2.9M637.45 317.8v-2.9M637.45 189.7v2.9M640.5 317.8v-2.9M640.5 189.7v2.9M643.54 317.8v-5.5M643.54 189.7v5.5M646.59 317.8v-2.9M646.59 189.7v2.9M649.63 317.8v-2.9M649.63 189.7v2.9M652.68 317.8v-2.9M652.68 189.7v2.9M655.73 317.8v-2.9M655.73 189.7v2.9M658.77 317.8v-4.2M658.77 189.7v4.2M661.82 317.8v-2.9M661.82 189.7v2.9M664.86 317.8v-2.9M664.86 189.7v2.9M667.91 317.8v-2.9M667.91 189.7v2.9M670.95 317.8v-2.9M670.95 189.7v2.9M674 317.8v-5.5M674 189.7v5.5M677.05 317.8v-2.9M677.05 189.7v2.9M680.09 317.8v-2.9M680.09 189.7v2.9M451.9 314.2h3M682.3 314.2h-3M451.9 311h3M682.3 311h-3M451.9 307.8h3M682.3 307.8h-3M451.9 304.6h3M682.3 304.6h-3M451.9 301.4h5.4M682.3 301.4h-5.4M451.9 298.2h3M682.3 298.2h-3M451.9 295h3M682.3 295h-3M451.9 291.8h3M682.3 291.8h-3M451.9 288.6h3M682.3 288.6h-3M451.9 285.4h5.4M682.3 285.4h-5.4M451.9 282.2h3M682.3 282.2h-3M451.9 279h3M682.3 279h-3M451.9 275.8h3M682.3 275.8h-3M451.9 272.6h3M682.3 272.6h-3M451.9 269.4h5.4M682.3 269.4h-5.4M451.9 266.2h3M682.3 266.2h-3M451.9 263h3M682.3 263h-3M451.9 259.8h3M682.3 259.8h-3M451.9 256.6h3M682.3 256.6h-3M451.9 253.4h5.4M682.3 253.4h-5.4M451.9 250.2h3M682.3 250.2h-3M451.9 247h3M682.3 247h-3M451.9 243.8h3M682.3 243.8h-3M451.9 240.6h3M682.3 240.6h-3M451.9 237.4h5.4M682.3 237.4h-5.4M451.9 234.2h3M682.3 234.2h-3M451.9 231h3M682.3 231h-3M451.9 227.8h3M682.3 227.8h-3M451.9 224.6h3M682.3 224.6h-3M451.9 221.4h5.4M682.3 221.4h-5.4M451.9 218.2h3M682.3 218.2h-3M451.9 215h3M682.3 215h-3M451.9 211.8h3M682.3 211.8h-3M451.9 208.6h3M682.3 208.6h-3M451.9 205.4h5.4M682.3 205.4h-5.4M451.9 202.2h3M682.3 202.2h-3M451.9 199h3M682.3 199h-3M451.9 195.8h3M682.3 195.8h-3M451.9 192.6h3M682.3 192.6h-3" stroke="#111" stroke-width="1.05" fill="none"/>
<g font-size="8.6" text-anchor="middle" fill="#1a1a1a" stroke="#1a1a1a" stroke-width="0.2">
<text transform="translate(460.8 329.5) scale(1 1.07)">400</text>
<text transform="translate(491.26 329.5) scale(1 1.07)">600</text>
<text transform="translate(521.71 329.5) scale(1 1.07)">800</text>
<text transform="translate(552.17 329.5) scale(1 1.07)">1000</text>
<text transform="translate(582.63 329.5) scale(1 1.07)">1200</text>
<text transform="translate(613.09 329.5) scale(1 1.07)">1400</text>
<text transform="translate(643.54 329.5) scale(1 1.07)">1600</text>
<text transform="translate(674 329.5) scale(1 1.07)">1800</text>
</g>
<g font-size="9.0" text-anchor="end" fill="#1a1a1a" stroke="#1a1a1a" stroke-width="0.2">
<text transform="translate(449 320.85) scale(1 1.07)">0.0</text>
<text transform="translate(449 304.85) scale(1 1.07)">0.5</text>
<text transform="translate(449 288.85) scale(1 1.07)">1.0</text>
<text transform="translate(449 272.85) scale(1 1.07)">1.5</text>
<text transform="translate(449 256.85) scale(1 1.07)">2.0</text>
<text transform="translate(449 240.85) scale(1 1.07)">2.5</text>
<text transform="translate(449 224.85) scale(1 1.07)">3.0</text>
<text transform="translate(444.4 211) scale(1 1.07)">3.5x10</text>
<text transform="translate(444.4 204.1) scale(1 1.07)" text-anchor="start" font-size="5.6">-5</text>
</g>
<path d="M460.9 317 461.1 290 461.5 260 461.9 242 462.3 235.6 462.7 242 463.1 260 463.5 285 463.9 305 464.5 315 465.2 305 465.7 298.4 466.2 306 466.6 316 467.1 302 467.7 289 468.2 283 468.8 290 469.4 303 470 316 470.6 300 471.3 280 472 267 472.7 280 473.4 300 474.2 315 474.9 298 475.6 278 476.4 267.7 477 280 477.7 300 478.3 314.5 479 298.4 479.7 276.5 480.5 257.5 481.2 245.8 481.6 237.1 482.1 241 482.9 248.8 483.8 260.4 484.7 267.7 485.4 271 486 268.5 486.6 266.3 487.2 269.2 487.9 276.5 488.8 285.3 489.7 291.1 490.5 293.7 491.4 289.6 492.1 276.5 492.9 257.5 493.6 240 493.9 229.8 494.8 207.9 495.5 196.2 496.1 191.5 496.7 196.2 497.1 207.9 498 229.8 498.4 245 498.9 258 499.4 275 499.9 291.1 500.5 304.2 501.1 313 501.6 317 502.22 309.85 502.8 294.99 503.53 278.64 504.26 268.24 504.99 264.08 505.58 263.78 506.16 266.75 506.74 274.18 507.47 286.07 508.2 299.45 508.79 309.85 509.23 315.05 509.66 305.39 510.25 297.22 510.69 296.18 511.12 299.45 511.56 305.39 512 312.08 512.58 305.39 513.31 299.45 514.04 295.73 514.77 292.01 515.5 289.79 516.09 292.76 516.67 298.7 517.4 302.42 517.99 303.16 518.57 299.45 519.15 290.53 519.88 280.13 520.61 272.69 521.34 269.72 521.93 269.43 522.51 271.95 523.09 278.64 523.82 289.04 524.55 300.93 525.28 309.85 525.87 314.31 526.31 305.39 526.89 296.47 527.47 293.2 528.06 297.22 528.64 305.39 529.23 314.31 529.66 302.42 530.25 284.58 530.83 266.75 531.56 251.89 532.29 243.72 532.92 240.74 533.94 251.89 534.67 272.69 535.4 296.47 536.13 313.56 536.72 299.45 537.3 284.58 538.03 276.41 538.76 274.92 539.34 280.13 539.93 294.99 540.51 308.36 541.09 316.09 541.68 299.45 542.41 281.61 543.14 266.75 543.87 259.32 544.45 258.13 545.18 262.29 546.06 272.69 546.93 283.1 547.81 290.53 548.69 293.8 549.42 289.04 550.29 275.67 551.17 262.29 552.04 252.63 552.92 247.73 553.65 251.15 554.38 262.29 555.11 277.15 555.84 292.01 556.57 305.39 557.3 313.12 557.88 302.42 558.47 289.04 559.2 279.38 559.93 275.96 560.66 279.38 561.39 289.04 562.12 300.93 562.99 311.33 563.87 315.5 564.74 313.12 565.33 315.5 565.91 305.39 566.64 290.53 567.52 274.18 568.39 262.29 569.12 257.54 569.71 257.09 570.44 260.06 571.31 268.24 572.19 280.13 573.07 292.01 573.94 302.42 574.82 309.85 575.55 312.52 576.13 305.39 576.86 292.01 577.74 274.18 578.61 257.83 579.49 245.94 580.36 239.26 581.09 237.62 581.82 240 582.55 254.86 583.14 272.69 583.72 292.01 584.31 306.88 584.74 314.31 585.18 302.42 585.77 281.61 586.35 262.29 587.08 247.43 587.81 239.26 588.54 237.62 589.27 241.49 589.85 257.83 590.44 277.15 591.02 296.47 591.61 309.85 592.19 316.09 592.59 303.9 593.32 289.04 594.2 277.9 595.22 271.21 595.95 270.47 596.68 273.44 597.55 283.1 598.43 291.27 599.31 294.99 600.04 289.79 600.91 278.64 601.79 268.98 602.66 263.04 603.54 261.99 604.27 264.52 605.15 271.95 606.02 280.87 606.9 289.04 607.77 299.45 608.65 308.36 609.38 313.86 609.96 311.63 610.69 313.86 611.57 315.5 612.45 313.12 613.32 313.86 614.2 314.75 614.93 313.86 615.51 309.11 616.24 300.93 617.12 290.53 617.99 282.35 618.87 277.45 619.6 276.71 620.18 279.38 620.77 284.58 621.5 288.3 622.37 287.85 623.25 288.45 624.12 287.85 625 289.79 625.88 292.01 626.75 294.24 627.63 296.47 628.5 297.66 629.23 295.73 629.96 291.27 630.69 286.81 631.42 284.58 632.01 287.56 632.74 292.01 633.47 295.73 634.34 297.96 635.22 302.42 636.09 306.88 636.97 311.33 637.85 314.75 638.43 309.85 639.01 305.39 639.74 303.61 640.47 306.13 641.2 309.85 641.93 311.33 642.66 309.11 643.39 307.62 643.98 309.85 644.85 313.56 645.73 316.54 646.61 317.28 647.48 312.82 648.36 306.88 649.23 300.93 650.11 294.99 650.99 289.79 651.86 284.58 652.74 280.13 653.61 276.41 654.49 273.88 655.36 272.4 656.24 273.88 657.12 276.86 657.99 281.61 658.87 287.56 659.74 294.24 660.62 300.19 661.5 306.13 662.37 311.33 663.25 315.35 663.98 313.86 664.71 316.09 665.29 314.6 665.88 316.09 666.46 311.33 667.19 302.42 667.92 292.01 668.65 281.61 669.38 271.95 670.11 265.26 670.55 262.74 670.99 266.01 671.42 266.75 672.01 268.98 672.45 275.67 672.74 282.35" fill="none" stroke="#b4262a" stroke-width="0.85" stroke-linejoin="round" stroke-linecap="round"/>
</g>
<g id="panel-e">
<rect x="109.85" y="365.3" width="240.65" height="135.1" fill="none" stroke="#111" stroke-width="1.25"/>
<path d="M112.85 500.4v-2.9M112.85 365.3v2.9M116.02 500.4v-2.9M116.02 365.3v2.9M119.2 500.4v-5.5M119.2 365.3v5.5M122.38 500.4v-2.9M122.38 365.3v2.9M125.55 500.4v-2.9M125.55 365.3v2.9M128.73 500.4v-2.9M128.73 365.3v2.9M131.9 500.4v-2.9M131.9 365.3v2.9M135.08 500.4v-4.2M135.08 365.3v4.2M138.25 500.4v-2.9M138.25 365.3v2.9M141.43 500.4v-2.9M141.43 365.3v2.9M144.61 500.4v-2.9M144.61 365.3v2.9M147.78 500.4v-2.9M147.78 365.3v2.9M150.96 500.4v-5.5M150.96 365.3v5.5M154.13 500.4v-2.9M154.13 365.3v2.9M157.31 500.4v-2.9M157.31 365.3v2.9M160.48 500.4v-2.9M160.48 365.3v2.9M163.66 500.4v-2.9M163.66 365.3v2.9M166.84 500.4v-4.2M166.84 365.3v4.2M170.01 500.4v-2.9M170.01 365.3v2.9M173.19 500.4v-2.9M173.19 365.3v2.9M176.36 500.4v-2.9M176.36 365.3v2.9M179.54 500.4v-2.9M179.54 365.3v2.9M182.71 500.4v-5.5M182.71 365.3v5.5M185.89 500.4v-2.9M185.89 365.3v2.9M189.07 500.4v-2.9M189.07 365.3v2.9M192.24 500.4v-2.9M192.24 365.3v2.9M195.42 500.4v-2.9M195.42 365.3v2.9M198.59 500.4v-4.2M198.59 365.3v4.2M201.77 500.4v-2.9M201.77 365.3v2.9M204.94 500.4v-2.9M204.94 365.3v2.9M208.12 500.4v-2.9M208.12 365.3v2.9M211.3 500.4v-2.9M211.3 365.3v2.9M214.47 500.4v-5.5M214.47 365.3v5.5M217.65 500.4v-2.9M217.65 365.3v2.9M220.82 500.4v-2.9M220.82 365.3v2.9M224 500.4v-2.9M224 365.3v2.9M227.17 500.4v-2.9M227.17 365.3v2.9M230.35 500.4v-4.2M230.35 365.3v4.2M233.53 500.4v-2.9M233.53 365.3v2.9M236.7 500.4v-2.9M236.7 365.3v2.9M239.88 500.4v-2.9M239.88 365.3v2.9M243.05 500.4v-2.9M243.05 365.3v2.9M246.23 500.4v-5.5M246.23 365.3v5.5M249.4 500.4v-2.9M249.4 365.3v2.9M252.58 500.4v-2.9M252.58 365.3v2.9M255.76 500.4v-2.9M255.76 365.3v2.9M258.93 500.4v-2.9M258.93 365.3v2.9M262.11 500.4v-4.2M262.11 365.3v4.2M265.28 500.4v-2.9M265.28 365.3v2.9M268.46 500.4v-2.9M268.46 365.3v2.9M271.63 500.4v-2.9M271.63 365.3v2.9M274.81 500.4v-2.9M274.81 365.3v2.9M277.99 500.4v-5.5M277.99 365.3v5.5M281.16 500.4v-2.9M281.16 365.3v2.9M284.34 500.4v-2.9M284.34 365.3v2.9M287.51 500.4v-2.9M287.51 365.3v2.9M290.69 500.4v-2.9M290.69 365.3v2.9M293.86 500.4v-4.2M293.86 365.3v4.2M297.04 500.4v-2.9M297.04 365.3v2.9M300.22 500.4v-2.9M300.22 365.3v2.9M303.39 500.4v-2.9M303.39 365.3v2.9M306.57 500.4v-2.9M306.57 365.3v2.9M309.74 500.4v-5.5M309.74 365.3v5.5M312.92 500.4v-2.9M312.92 365.3v2.9M316.09 500.4v-2.9M316.09 365.3v2.9M319.27 500.4v-2.9M319.27 365.3v2.9M322.45 500.4v-2.9M322.45 365.3v2.9M325.62 500.4v-4.2M325.62 365.3v4.2M328.8 500.4v-2.9M328.8 365.3v2.9M331.97 500.4v-2.9M331.97 365.3v2.9M335.15 500.4v-2.9M335.15 365.3v2.9M338.32 500.4v-2.9M338.32 365.3v2.9M341.5 500.4v-5.5M341.5 365.3v5.5M344.68 500.4v-2.9M344.68 365.3v2.9M347.85 500.4v-2.9M347.85 365.3v2.9M109.85 496.31h3M350.5 496.31h-3M109.85 492.61h3M350.5 492.61h-3M109.85 488.92h3M350.5 488.92h-3M109.85 485.22h3M350.5 485.22h-3M109.85 481.53h5.4M350.5 481.53h-5.4M109.85 477.84h3M350.5 477.84h-3M109.85 474.14h3M350.5 474.14h-3M109.85 470.45h3M350.5 470.45h-3M109.85 466.75h3M350.5 466.75h-3M109.85 463.06h5.4M350.5 463.06h-5.4M109.85 459.37h3M350.5 459.37h-3M109.85 455.67h3M350.5 455.67h-3M109.85 451.98h3M350.5 451.98h-3M109.85 448.28h3M350.5 448.28h-3M109.85 444.59h5.4M350.5 444.59h-5.4M109.85 440.9h3M350.5 440.9h-3M109.85 437.2h3M350.5 437.2h-3M109.85 433.51h3M350.5 433.51h-3M109.85 429.81h3M350.5 429.81h-3M109.85 426.12h5.4M350.5 426.12h-5.4M109.85 422.43h3M350.5 422.43h-3M109.85 418.73h3M350.5 418.73h-3M109.85 415.04h3M350.5 415.04h-3M109.85 411.34h3M350.5 411.34h-3M109.85 407.65h5.4M350.5 407.65h-5.4M109.85 403.96h3M350.5 403.96h-3M109.85 400.26h3M350.5 400.26h-3M109.85 396.57h3M350.5 396.57h-3M109.85 392.87h3M350.5 392.87h-3M109.85 389.18h5.4M350.5 389.18h-5.4M109.85 385.49h3M350.5 385.49h-3M109.85 381.79h3M350.5 381.79h-3M109.85 378.1h3M350.5 378.1h-3M109.85 374.4h3M350.5 374.4h-3M109.85 370.71h5.4M350.5 370.71h-5.4M109.85 367.02h3M350.5 367.02h-3" stroke="#111" stroke-width="1.05" fill="none"/>
<g font-size="9.0" text-anchor="middle" fill="#1a1a1a" stroke="#1a1a1a" stroke-width="0.2">
<text transform="translate(119.2 512.8) scale(1 1.07)">400</text>
<text transform="translate(150.96 512.8) scale(1 1.07)">600</text>
<text transform="translate(182.71 512.8) scale(1 1.07)">800</text>
<text transform="translate(214.47 512.8) scale(1 1.07)">1000</text>
<text transform="translate(246.23 512.8) scale(1 1.07)">1200</text>
<text transform="translate(277.99 512.8) scale(1 1.07)">1400</text>
<text transform="translate(309.74 512.8) scale(1 1.07)">1600</text>
<text transform="translate(341.5 512.8) scale(1 1.07)">1800</text>
</g>
<g font-size="9.0" text-anchor="end" fill="#1a1a1a" stroke="#1a1a1a" stroke-width="0.2">
<text transform="translate(106.8 503.45) scale(1 1.07)">0.00</text>
<text transform="translate(106.8 484.98) scale(1 1.07)">0.25</text>
<text transform="translate(106.8 466.51) scale(1 1.07)">0.50</text>
<text transform="translate(106.8 448.04) scale(1 1.07)">0.75</text>
<text transform="translate(106.8 429.57) scale(1 1.07)">1.00</text>
<text transform="translate(106.8 411.1) scale(1 1.07)">1.25</text>
<text transform="translate(106.8 392.63) scale(1 1.07)">1.50</text>
<text transform="translate(101.7 376.31) scale(1 1.07)">1.75x10</text>
<text transform="translate(101.7 369.41) scale(1 1.07)" text-anchor="start" font-size="5.6">-5</text>
</g>
<path d="M119.24 478.74 119.68 460.5 120.12 442.98 120.55 435.97 121.14 444.44 121.72 460.5 122.31 473.64 122.89 485.31 123.47 492.61 124.06 495.53 124.64 488.23 125.23 479.47 125.81 473.64 126.39 472.18 126.98 478.01 127.56 486.77 128.15 495.53 128.58 498.74 129.02 488.23 129.61 473.64 130.19 459.04 130.77 450.28 131.36 448.82 131.94 453.2 132.53 461.96 133.11 470.72 133.69 478.01 134.28 481.23 135.01 480.2 135.74 479.47 136.47 479.77 137.2 478.01 137.93 475.82 138.36 472.91 138.8 475.82 139.24 467.8 139.82 456.12 140.41 442.98 140.99 431.3 140.99 416.01 141.58 407.26 142.16 402.88 142.74 400.25 143.33 402.88 143.91 405.07 144.5 405.8 145.08 407.26 145.66 413.09 146.25 421.85 146.83 431.3 147.42 437.14 148.15 440.79 148.88 448.82 149.61 456.85 150.34 459.04 151.07 459.77 151.8 461.96 152.23 466.34 152.67 469.99 153.26 463.42 153.84 454.66 154.42 448.82 155.01 447.36 155.59 446.63 156.18 444.44 156.76 450.28 157.34 459.04 157.93 464.88 158.36 467.8 158.8 461.96 159.24 461.23 159.68 466.34 160.26 473.64 160.85 479.47 161.43 480.93 162.01 485.31 162.6 491.15 163.18 496.55 163.91 492.61 164.64 486.77 165.37 480.93 166.1 473.64 166.83 466.34 167.56 459.77 168.29 456.85 168.88 457.28 169.46 461.96 170.04 470.72 170.63 480.93 171.21 489.69 171.8 495.82 172.38 488.23 172.96 478.01 173.55 467.8 174.13 459.04 174.72 454.66 175.3 459.04 175.88 466.34 176.47 471.45 177.05 464.88 177.64 454.66 178.22 445.9 178.8 438.6 179.39 434.95 179.97 441.52 180.55 453.2 181.14 463.42 181.58 467.07 182.01 460.5 182.6 448.82 183.18 438.6 183.77 429.84 183.62 421.85 184.2 414.55 184.79 409.45 185.37 407.26 185.96 402.88 186.39 395.58 186.83 391.2 187.27 395.58 187.71 404.34 188.29 413.09 188.88 418.93 189.46 421.85 190.04 414.55 190.63 402.88 191.21 388.28 191.65 378.06 192.09 372.95 192.53 378.06 192.96 388.28 193.55 402.88 194.13 416.01 194.72 423.31 195.3 417.47 195.88 407.26 196.47 399.96 196.75 399.23 197.34 402.15 197.92 405.8 198.5 405.07 199.09 408.72 199.82 412.36 200.4 409.45 200.99 405.8 201.72 403.61 202.3 403.17 202.88 407.26 203.47 414.55 204.05 421.85 204.64 428.42 205.22 431.34 205.8 426.23 206.39 418.93 206.97 412.36 207.55 408.72 207.99 409.01 208.43 411.64 208.87 412.36 209.31 417.47 209.74 424.77 210.18 429.88 210.62 424.77 211.06 420.39 211.5 421.12 211.93 418.2 212.37 417.18 212.81 421.85 213.1 429.84 213.69 440.06 214.27 453.2 214.85 463.42 215.44 469.26 216.17 474.36 216.9 479.47 217.63 483.85 218.36 488.23 219.09 491.88 219.82 490.42 220.55 493.34 221.28 491.15 222.01 488.96 222.59 486.04 223.18 488.23 223.76 494.07 224.34 497.72 225.07 499.47 225.8 497.72 226.53 494.07 227.26 489.69 227.85 485.31 228.43 482.39 228.87 486.77 229.31 492.61 229.74 495.82 230.04 488.23 230.47 479.47 230.91 469.26 231.35 461.96 231.79 459.04 232.37 458.31 232.96 456.85 233.54 448.82 234.12 440.06 234.71 431.3 234.12 420.39 234.71 411.64 235.29 407.26 235.88 405.07 236.31 404.77 236.61 410.18 237.04 420.39 237.48 426.96 237.92 429.45 238.36 426.23 238.94 420.39 239.53 416.01 239.96 413.82 240.4 416.74 240.99 420.39 241.57 423.31 242.15 425.5 242.74 420.39 243.32 414.55 243.91 408.72 244.49 410.18 245.07 405.8 245.66 402.88 246.24 403.61 246.82 401.12 247.26 400.69 247.7 404.34 248.14 410.18 248.58 417.47 249.31 425.46 249.74 431.3 250.18 440.06 250.77 448.82 251.35 456.12 251.93 461.96 252.52 464.88 253.1 461.96 253.69 458.31 254.27 455.39 254.85 453.2 255.29 445.9 255.73 438.6 256.17 436.41 256.61 440.06 257.04 445.9 257.48 453.2 258.07 460.5 258.65 466.34 259.23 472.18 259.67 477.28 260.11 470.72 260.55 464.88 260.99 462.25 261.42 466.34 261.86 470.72 262.45 473.64 263.03 478.01 263.61 482.39 264.2 485.31 264.78 488.23 265.36 489.69 265.95 488.23 266.53 485.31 266.97 482.39 267.41 488.23 267.99 492.61 268.58 496.26 269.16 498.45 269.74 499.47 270.33 494.07 270.91 488.23 271.5 482.39 272.08 478.74 272.52 483.85 272.96 489.69 273.39 488.23 273.83 485.31 274.27 491.15 274.56 496.99 275 488.23 275.44 479.47 275.88 472.18 276.46 469.99 277.04 472.18 277.63 470.72 278.21 473.64 278.65 470.72 279.09 464.88 279.67 459.04 280.26 451.74 280.84 445.9 281.42 442.25 282.01 442.98 282.59 440.79 283.18 438.6 283.76 441.52 284.34 437.14 284.78 442.98 285.22 446.63 285.66 441.52 286.09 437.14 286.68 432.76 287.26 429.84 287.85 426.92 286.79 424.77 287.52 420.39 288.25 416.01 288.69 420.39 289.27 418.2 289.85 410.18 290.44 401.42 291.17 393.39 291.9 390.91 292.48 394.12 293.07 398.5 293.65 404.34 294.23 410.18 294.82 416.01 295.26 417.18 295.84 411.64 296.42 404.34 297.01 400.69 297.59 402.15 298.18 398.5 298.76 396.31 299.34 393.39 299.93 388.28 300.51 380.98 301.09 374.41 301.68 369.3 302.26 367.11 302.85 370.03 303.43 376.6 303.87 385.36 304.31 393.39 304.74 405.8 305.18 417.47 305.62 426.23 305.91 430.61 306.35 423.31 306.79 413.09 307.23 404.34 307.81 398.5 308.39 396.31 308.83 400.69 309.27 408.72 309.71 417.47 310.15 423.31 310.58 426.23 311.02 420.39 311.61 414.55 312.19 411.64 312.77 410.18 313.21 414.55 313.65 419.66 314.09 417.47 314.53 421.85 314.96 424.04 315.55 424.77 316.13 425.5 316.57 432.07 316.42 438.6 317.01 447.36 317.59 454.66 318.18 460.5 318.76 464.88 319.34 469.26 319.93 472.18 320.51 469.26 321.09 467.8 321.68 469.26 322.26 466.34 322.85 463.42 323.43 460.5 324.01 464.88 324.6 470.72 325.18 472.91 325.77 469.26 326.35 466.34 326.93 464.15 327.52 461.96 328.1 459.77 328.69 456.85 329.27 453.2 329.71 445.9 330.15 435.68 330.58 426.92 330.15 421.85 330.73 414.55 331.31 410.91 331.9 410.18 332.34 413.09 332.77 420.39 333.21 429.84 333.65 435.68 334.23 441.52 334.82 444.44 335.4 447.36 335.84 453.2 336.28 459.04 336.72 466.34 337.15 475.09 337.59 483.85 338.03 491.15 338.47 496.99 338.91 499.47 339.2 492.61 339.49 485.31 339.78 478.01 340.07 473.64" fill="none" stroke="#b4262a" stroke-width="0.85" stroke-linejoin="round" stroke-linecap="round"/>
</g>
<g id="panel-f">
<path d="M445.8 371.3H682.6" stroke="#808080" stroke-width="1.3" fill="none"/>
<path d="M445.8 370.8V492.4H683.2" stroke="#111" stroke-width="1.5" fill="none"/>
<path d="M682.6 371.3V492.4" stroke="#111" stroke-width="1.2" fill="none"/>
<path d="M449 492.4v-5.8M506.55 492.4v-5.8M506.55 371.3v5.8M564.1 492.4v-5.8M564.1 371.3v5.8M621.65 492.4v-5.8M621.65 371.3v5.8M679.2 492.4v-5.8M445.8 489.65h6M682.6 489.65h-6M445.8 486.52h3.2M682.6 486.52h-3.2M445.8 483.4h3.2M682.6 483.4h-3.2M445.8 480.27h3.2M682.6 480.27h-3.2M445.8 477.15h3.2M682.6 477.15h-3.2M445.8 474.02h4.5M682.6 474.02h-4.5M445.8 470.9h3.2M682.6 470.9h-3.2M445.8 467.77h3.2M682.6 467.77h-3.2M445.8 464.65h3.2M682.6 464.65h-3.2M445.8 461.52h3.2M682.6 461.52h-3.2M445.8 458.4h6M682.6 458.4h-6M445.8 455.27h3.2M682.6 455.27h-3.2M445.8 452.15h3.2M682.6 452.15h-3.2M445.8 449.02h3.2M682.6 449.02h-3.2M445.8 445.9h3.2M682.6 445.9h-3.2M445.8 442.77h4.5M682.6 442.77h-4.5M445.8 439.65h3.2M682.6 439.65h-3.2M445.8 436.52h3.2M682.6 436.52h-3.2M445.8 433.4h3.2M682.6 433.4h-3.2M445.8 430.27h3.2M682.6 430.27h-3.2M445.8 427.15h6M682.6 427.15h-6M445.8 424.02h3.2M682.6 424.02h-3.2M445.8 420.9h3.2M682.6 420.9h-3.2M445.8 417.77h3.2M682.6 417.77h-3.2M445.8 414.65h3.2M682.6 414.65h-3.2M445.8 411.52h4.5M682.6 411.52h-4.5M445.8 408.4h3.2M682.6 408.4h-3.2M445.8 405.27h3.2M682.6 405.27h-3.2M445.8 402.15h3.2M682.6 402.15h-3.2M445.8 399.02h3.2M682.6 399.02h-3.2M445.8 395.9h6M682.6 395.9h-6M445.8 392.77h3.2M682.6 392.77h-3.2M445.8 389.65h3.2M682.6 389.65h-3.2M445.8 386.52h3.2M682.6 386.52h-3.2M445.8 383.4h3.2M682.6 383.4h-3.2M445.8 380.27h4.5M682.6 380.27h-4.5M445.8 377.15h3.2M682.6 377.15h-3.2M445.8 374.02h3.2M682.6 374.02h-3.2" stroke="#111" stroke-width="1.15" fill="none"/>
<g font-size="9.0" text-anchor="middle" fill="#1a1a1a" stroke="#1a1a1a" stroke-width="0.2">
<text transform="translate(449 505.8) scale(1 1.07)">1</text>
<text transform="translate(506.55 505.8) scale(1 1.07)">2</text>
<text transform="translate(564.1 505.8) scale(1 1.07)">3</text>
<text transform="translate(621.65 505.8) scale(1 1.07)">4</text>
<text transform="translate(679.2 505.8) scale(1 1.07)">5</text>
</g>
<g font-size="9.0" text-anchor="end" fill="#1a1a1a" stroke="#1a1a1a" stroke-width="0.2">
<text transform="translate(441.6 461.85) scale(1 1.07)">0.20</text>
<text transform="translate(441.6 430.6) scale(1 1.07)">0.40</text>
<text transform="translate(441.6 399.35) scale(1 1.07)">0.60</text>
</g>
<path d="M449.1 374.7 506.5 468.8 564.4 485.4 621.8 488.1 679.3 489.0" fill="none" stroke="#b4262a" stroke-width="1"/>
<rect x="446.6" y="372.4" width="5" height="5" fill="#e8131b"/>
<rect x="504" y="466.5" width="5" height="5" fill="#e8131b"/>
<rect x="561.9" y="483.1" width="5" height="5" fill="#e8131b"/>
<rect x="619.3" y="485.8" width="5" height="5" fill="#e8131b"/>
<rect x="676.8" y="486.7" width="5" height="5" fill="#e8131b"/>
</g>
<g font-size="21.4" fill="#111" stroke="#111" stroke-width="0.25">
<text transform="translate(41.2 16.9) scale(1 1.1)" letter-spacing="0">(a)</text>
<text transform="translate(380.9 16.9) scale(1 1.1)" letter-spacing="0.3">(b)</text>
<text transform="translate(42.6 194.9) scale(1 1.1)" letter-spacing="-0.3">(c)</text>
<text transform="translate(380.9 194.9) scale(1 1.1)" letter-spacing="0.3">(d)</text>
<text transform="translate(34.6 377.2) scale(1 1.1)" letter-spacing="0.2">(e)</text>
<text transform="translate(383.6 377.0) scale(1 1.1)" letter-spacing="0.8">(f)</text>
</g>
<g font-size="14.6" fill="#111" stroke="#111" stroke-width="0.28" text-anchor="middle">
<text x="232.9" y="179.8">Wavenumber (cm<tspan dy="-3.7" font-size="9.6">-1</tspan><tspan dy="3.7">)</tspan></text>
<text x="564.6" y="179.6">Wavenumber (cm<tspan dy="-3.7" font-size="9.6">-1</tspan><tspan dy="3.7">)</tspan></text>
<text x="233.5" y="354.0">Wavenumber (cm<tspan dy="-3.7" font-size="9.6">-1</tspan><tspan dy="3.7">)</tspan></text>
<text x="567.7" y="354.0">Wavenumber (cm<tspan dy="-3.7" font-size="9.6">-1</tspan><tspan dy="3.7">)</tspan></text>
<text x="231.6" y="535.1">Wavenumber (cm<tspan dy="-3.7" font-size="9.6">-1</tspan><tspan dy="3.7">)</tspan></text>
<text x="564.2" y="531.8" textLength="175.4" lengthAdjust="spacingAndGlyphs">Principal Component index</text>
<text transform="translate(19.5 78.0) rotate(-90)" textLength="112.6" lengthAdjust="spacingAndGlyphs">Absolute value of</text>
<text transform="translate(39 78.0) rotate(-90)" textLength="82.2" lengthAdjust="spacingAndGlyphs">the intensity</text>
<text transform="translate(58.4 78.0) rotate(-90)" textLength="60.6" lengthAdjust="spacingAndGlyphs">(arb. un.)</text>
<text transform="translate(19.5 256.1) rotate(-90)" textLength="112.6" lengthAdjust="spacingAndGlyphs">Absolute value of</text>
<text transform="translate(39 256.1) rotate(-90)" textLength="82.2" lengthAdjust="spacingAndGlyphs">the intensity</text>
<text transform="translate(58.4 256.1) rotate(-90)" textLength="60.6" lengthAdjust="spacingAndGlyphs">(arb. un.)</text>
<text transform="translate(12.5 438.1) rotate(-90)" textLength="112.6" lengthAdjust="spacingAndGlyphs">Absolute value of</text>
<text transform="translate(32 438.1) rotate(-90)" textLength="82.2" lengthAdjust="spacingAndGlyphs">the intensity</text>
<text transform="translate(51.4 438.1) rotate(-90)" textLength="60.6" lengthAdjust="spacingAndGlyphs">(arb. un.)</text>
<text transform="translate(394.5 435.7) rotate(-90)" textLength="62.2" lengthAdjust="spacingAndGlyphs">Explained</text>
<text transform="translate(414 435.7) rotate(-90)" textLength="93.6" lengthAdjust="spacingAndGlyphs">Variance Ratio</text>
</g>
</svg></body></html>
